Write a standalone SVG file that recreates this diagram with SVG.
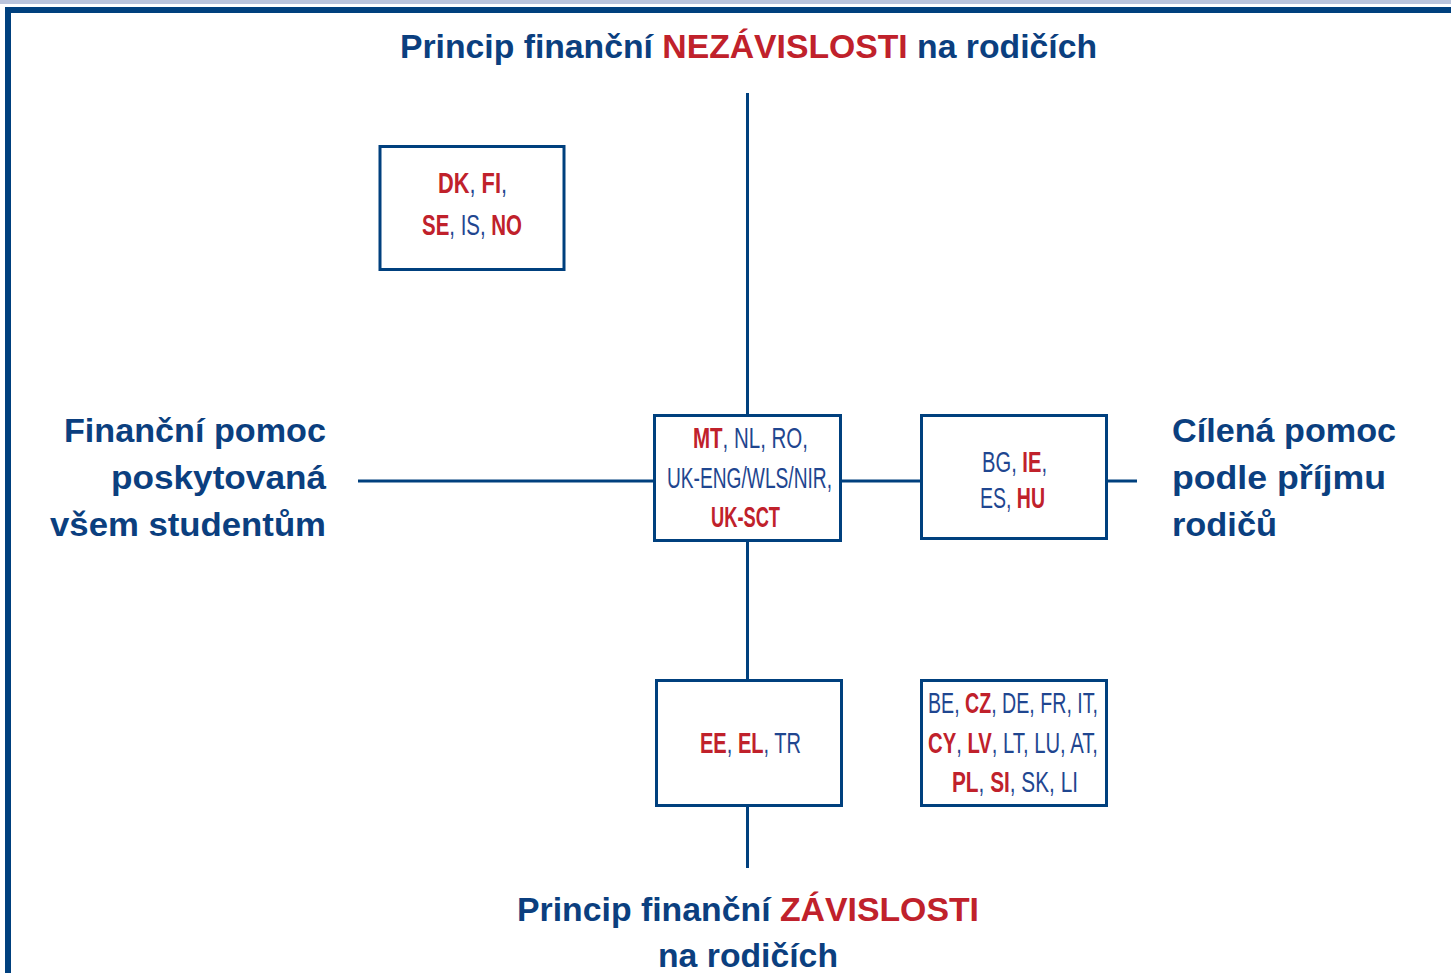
<svg xmlns="http://www.w3.org/2000/svg" width="1451" height="973" viewBox="0 0 1451 973">
<style>
.ax{stroke:#00407e;stroke-width:3;fill:none}
.bx{stroke:#00407e;stroke-width:3;fill:#ffffff}
.t{font-family:"Liberation Sans",Arial,sans-serif;fill:#0b3f7f}
.hd{font-size:34px;font-weight:bold}
.lb{font-size:33px;font-weight:bold}
.bt{font-size:29px}
.r{fill:#c0212b;font-weight:bold}
.b{fill:#1f4690;font-weight:normal}
</style>
<rect x="0" y="0" width="1451" height="4" fill="#bac4dc"/>
<rect x="5" y="7" width="1446" height="6" fill="#00407e"/>
<rect x="5" y="7" width="6" height="966" fill="#00407e"/>
<g id="connectors">
<line class="ax" x1="747.5" y1="93" x2="747.5" y2="415"/>
<line class="ax" x1="747.5" y1="541" x2="747.5" y2="680"/>
<line class="ax" x1="747.5" y1="806" x2="747.5" y2="868"/>
<line class="ax" x1="358" y1="481" x2="654" y2="481"/>
<line class="ax" x1="841" y1="481" x2="922" y2="481"/>
<line class="ax" x1="1106" y1="481" x2="1137" y2="481"/>
</g>
<g id="title-top">
<text class="t hd" x="400" y="58" textLength="697" lengthAdjust="spacingAndGlyphs">Princip finanční <tspan class="r">NEZÁVISLOSTI</tspan> na rodičích</text>
</g>
<g id="title-bottom">
<text class="t hd" x="517" y="921" textLength="462" lengthAdjust="spacingAndGlyphs">Princip finanční <tspan class="r">ZÁVISLOSTI</tspan></text>
<text class="t hd" x="658" y="967" textLength="180" lengthAdjust="spacingAndGlyphs">na rodičích</text>
</g>
<g id="label-left">
<text class="t lb" x="64" y="442" textLength="262" lengthAdjust="spacingAndGlyphs">Finanční pomoc</text>
<text class="t lb" x="111" y="489" textLength="215" lengthAdjust="spacingAndGlyphs">poskytovaná</text>
<text class="t lb" x="50" y="536" textLength="276" lengthAdjust="spacingAndGlyphs">všem studentům</text>
</g>
<g id="label-right">
<text class="t lb" x="1172" y="442" textLength="224" lengthAdjust="spacingAndGlyphs">Cílená pomoc</text>
<text class="t lb" x="1172" y="489" textLength="214" lengthAdjust="spacingAndGlyphs">podle příjmu</text>
<text class="t lb" x="1172" y="536" textLength="105" lengthAdjust="spacingAndGlyphs">rodičů</text>
</g>
<g id="box-nordic">
<rect class="bx" x="380" y="146.5" width="184" height="123"/>
<text class="t bt" x="438" y="193" textLength="69" lengthAdjust="spacingAndGlyphs"><tspan class="r">DK</tspan><tspan class="b">, </tspan><tspan class="r">FI</tspan><tspan class="b">,</tspan></text>
<text class="t bt" x="422" y="235" textLength="100" lengthAdjust="spacingAndGlyphs"><tspan class="r">SE</tspan><tspan class="b">, IS, </tspan><tspan class="r">NO</tspan></text>
</g>
<g id="box-center">
<rect class="bx" x="654.5" y="415.5" width="186" height="125"/>
<text class="t bt" x="693" y="448" textLength="115" lengthAdjust="spacingAndGlyphs"><tspan class="r">MT</tspan><tspan class="b">, NL, RO,</tspan></text>
<text class="t bt" x="667" y="488" textLength="165" lengthAdjust="spacingAndGlyphs"><tspan class="b">UK-ENG/WLS/NIR,</tspan></text>
<text class="t bt" x="711" y="527" textLength="69" lengthAdjust="spacingAndGlyphs"><tspan class="r">UK-SCT</tspan></text>
</g>
<g id="box-targeted">
<rect class="bx" x="921.5" y="415.5" width="185" height="123"/>
<text class="t bt" x="982" y="472" textLength="65" lengthAdjust="spacingAndGlyphs"><tspan class="b">BG, </tspan><tspan class="r">IE</tspan><tspan class="b">,</tspan></text>
<text class="t bt" x="980" y="508" textLength="65" lengthAdjust="spacingAndGlyphs"><tspan class="b">ES, </tspan><tspan class="r">HU</tspan></text>
</g>
<g id="box-dependent">
<rect class="bx" x="656.5" y="680.5" width="185" height="125"/>
<text class="t bt" x="700" y="753" textLength="101" lengthAdjust="spacingAndGlyphs"><tspan class="r">EE</tspan><tspan class="b">, </tspan><tspan class="r">EL</tspan><tspan class="b">, TR</tspan></text>
</g>
<g id="box-dependent-targeted">
<rect class="bx" x="921.5" y="680.5" width="185" height="125"/>
<text class="t bt" x="928" y="713" textLength="170" lengthAdjust="spacingAndGlyphs"><tspan class="b">BE, </tspan><tspan class="r">CZ</tspan><tspan class="b">, DE, FR, IT,</tspan></text>
<text class="t bt" x="928" y="753" textLength="170" lengthAdjust="spacingAndGlyphs"><tspan class="r">CY</tspan><tspan class="b">, </tspan><tspan class="r">LV</tspan><tspan class="b">, LT, LU, AT,</tspan></text>
<text class="t bt" x="952" y="792" textLength="126" lengthAdjust="spacingAndGlyphs"><tspan class="r">PL</tspan><tspan class="b">, </tspan><tspan class="r">SI</tspan><tspan class="b">, SK, LI</tspan></text>
</g>
</svg>
